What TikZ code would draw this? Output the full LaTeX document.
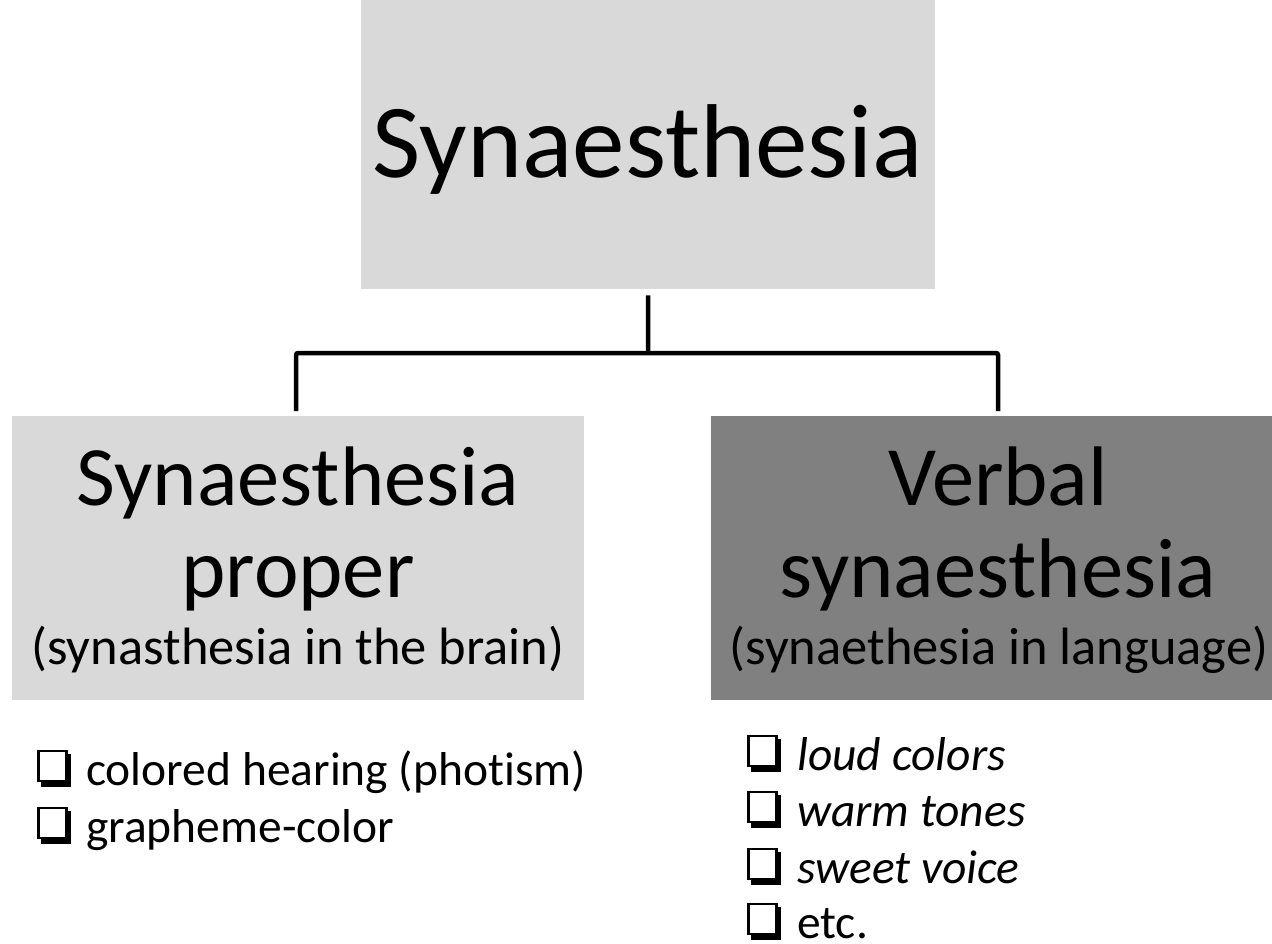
\documentclass[tikz,border=0pt]{standalone}
\usepackage{fontspec}
\setmainfont{Carlito}[Ligatures=NoCommon]
\definecolor{lightbox}{HTML}{D9D9D9}
\definecolor{darkbox}{HTML}{808080}
\tikzset{
  box/.style={draw=none, inner sep=0pt, anchor=north west},
  conn/.style={line width=4.5pt, black, rounded corners=2pt},
  txt/.style={inner sep=0pt, anchor=base},
  item/.style={inner sep=0pt, anchor=base west, font=\fontsize{47.5}{57}\selectfont},
  cbox/.pic={
    \fill[black] (4,-31) rectangle (33.5,2);
    \filldraw[fill=white, draw=black, line width=2.8pt] (1.4,-34) rectangle (29.5,-4);
  }
}
\begin{document}
\begin{tikzpicture}[x=1pt,y=-1pt]
\useasboundingbox (0,0) rectangle (1272,943);
\clip (0,0) rectangle (1272,943);
% boxes
\node[box, fill=lightbox, minimum width=574pt, minimum height=289pt] (top) at (361,0) {};
\node[box, fill=lightbox, minimum width=572pt, minimum height=284pt] (left) at (12,416) {};
\node[box, fill=darkbox, minimum width=573pt, minimum height=284pt] (right) at (711,416) {};
% texts
\node[txt, font=\fontsize{105}{126}\selectfont] (ttop) at (648,177) {Synaesthesia};
\node[txt, font=\fontsize{84.5}{100}\selectfont] (tl1) at (298,505) {Synaesthesia};
\node[txt, font=\fontsize{84.5}{100}\selectfont] (tl2) at (298,597) {proper};
\node[txt, font=\fontsize{52.5}{63}\selectfont] (tl3) at (298,664) {(synasthesia in the brain)};
\node[txt, font=\fontsize{84.5}{100}\selectfont] (tr1) at (998,505) {Verbal};
\node[txt, font=\fontsize{84.5}{100}\selectfont] (tr2) at (998,597) {synaesthesia};
\node[txt, font=\fontsize{52.5}{63}\selectfont] (tr3) at (999,664) {(synaethesia in language)};
% connectors
\coordinate (mid) at (648,353);
\draw[conn] ([yshift=-6pt]top.south) -- (mid);
\draw[conn] ([yshift=5pt]left.north -| 296,0) |- (mid) -| ([yshift=5pt]right.north -| 998,0);
% lists
\pic at (37,785) {cbox};
\node[item] (l1) at (86,785) {colored hearing (photism)};
\pic at (37,842) {cbox};
\node[item] (l2) at (86,842) {grapheme-color};
\pic at (747,770) {cbox};
\node[item] (r1) at (797,770) {\itshape loud colors};
\pic at (747,826) {cbox};
\node[item] (r2) at (797,826) {\itshape warm tones};
\pic at (747,883) {cbox};
\node[item] (r3) at (797,883) {\itshape sweet voice};
\pic at (747,938) {cbox};
\node[item] (r4) at (797,938) {etc.};
\end{tikzpicture}
\end{document}
